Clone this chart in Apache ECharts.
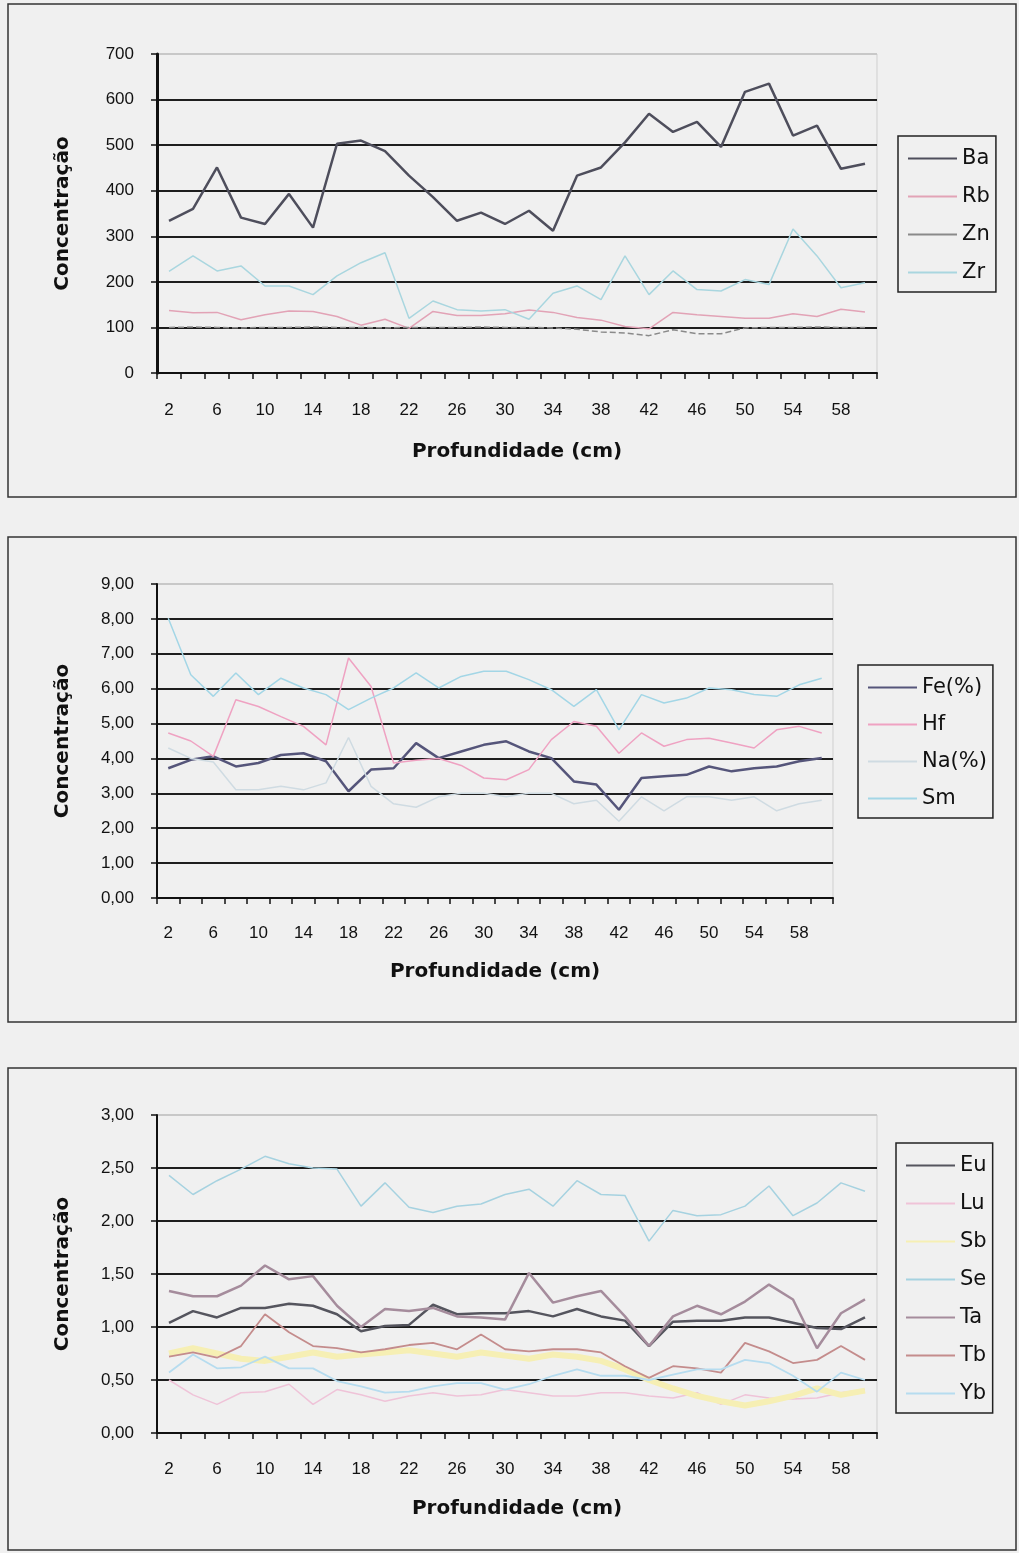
<!DOCTYPE html>
<html>
<head>
<meta charset="utf-8">
<title>Concentração x Profundidade</title>
<script src="https://cdn.jsdelivr.net/npm/echarts@6/dist/echarts.min.js"></script>
<style>
  html, body { margin: 0; padding: 0; background: #f0f0f0; }
  #chart { width: 1019px; height: 1553px; }
</style>
</head>
<body>
<div id="chart"></div>
<script>
// Profundidade (cm)
const depth = [2,4,6,8,10,12,14,16,18,20,22,24,26,28,30,32,34,36,38,40,42,44,46,48,50,52,54,56,58,60];

// Painel 1 (mg/kg)
const Ba = [334,360,451,341,327,393,319,503,510,487,433,386,334,352,327,356,312,433,451,506,569,529,551,496,617,635,521,543,448,459];
const Rb = [137,132,133,117,128,136,135,124,105,118,98,135,126,126,130,138,133,122,116,102,97,133,128,124,120,120,130,124,140,134];
const Zn = [100,101,100,99,100,100,101,100,100,99,100,100,100,101,100,100,99,96,90,88,82,95,86,86,99,100,100,101,100,100];
const Zr = [223,257,224,235,191,191,172,213,242,264,120,158,139,136,139,118,175,191,161,257,172,224,183,180,205,194,316,257,187,198];

// Painel 2
const Fe = [3.72,3.96,4.06,3.77,3.87,4.10,4.15,3.92,3.06,3.68,3.72,4.44,4.01,4.20,4.39,4.49,4.20,4.01,3.34,3.25,2.53,3.44,3.49,3.53,3.77,3.63,3.72,3.77,3.92,4.01];
const Hf = [4.73,4.50,4.06,5.68,5.49,5.20,4.92,4.39,6.88,6.06,3.87,3.95,4.00,3.80,3.44,3.39,3.68,4.54,5.06,4.92,4.15,4.73,4.35,4.54,4.58,4.44,4.30,4.82,4.92,4.73];
const Na = [4.30,4.00,3.90,3.10,3.10,3.20,3.10,3.30,4.60,3.20,2.70,2.60,2.90,3.00,3.00,2.90,3.00,3.00,2.70,2.80,2.20,2.90,2.50,2.90,2.90,2.80,2.90,2.50,2.70,2.80];
const Sm = [8.02,6.40,5.78,6.45,5.83,6.30,6.02,5.83,5.40,5.73,6.02,6.45,6.02,6.35,6.50,6.50,6.26,5.97,5.49,5.97,4.82,5.83,5.59,5.73,6.02,5.97,5.83,5.78,6.11,6.30];

// Painel 3
const Eu = [1.04,1.15,1.09,1.18,1.18,1.22,1.20,1.12,0.96,1.01,1.02,1.21,1.12,1.13,1.13,1.15,1.10,1.17,1.10,1.06,0.82,1.05,1.06,1.06,1.09,1.09,1.04,0.99,0.98,1.09];
const Lu = [0.50,0.36,0.27,0.38,0.39,0.46,0.27,0.41,0.36,0.30,0.35,0.38,0.35,0.36,0.41,0.38,0.35,0.35,0.38,0.38,0.35,0.33,0.38,0.27,0.36,0.33,0.32,0.33,0.38,0.41];
const Sb = [0.75,0.80,0.75,0.70,0.68,0.72,0.76,0.72,0.74,0.76,0.78,0.75,0.72,0.76,0.73,0.70,0.74,0.72,0.68,0.60,0.50,0.42,0.35,0.30,0.26,0.30,0.35,0.42,0.36,0.40];
const Se = [2.43,2.25,2.38,2.49,2.61,2.54,2.50,2.49,2.14,2.36,2.13,2.08,2.14,2.16,2.25,2.30,2.14,2.38,2.25,2.24,1.81,2.10,2.05,2.06,2.14,2.33,2.05,2.17,2.36,2.28];
const Ta = [1.34,1.29,1.29,1.39,1.58,1.45,1.48,1.20,1.00,1.17,1.15,1.18,1.10,1.09,1.07,1.51,1.23,1.29,1.34,1.10,0.82,1.10,1.20,1.12,1.24,1.40,1.26,0.80,1.13,1.26];
const Tb = [0.72,0.76,0.71,0.82,1.12,0.95,0.82,0.80,0.76,0.79,0.83,0.85,0.79,0.93,0.79,0.77,0.79,0.79,0.76,0.63,0.52,0.63,0.61,0.57,0.85,0.77,0.66,0.69,0.82,0.69];
const Yb = [0.57,0.74,0.61,0.62,0.72,0.61,0.61,0.49,0.44,0.38,0.39,0.44,0.47,0.47,0.41,0.46,0.54,0.60,0.54,0.54,0.50,0.55,0.60,0.60,0.69,0.66,0.54,0.39,0.57,0.50];

const yTicks1 = { min: 0, max: 700, interval: 100 };
const yTicks2 = { min: 0, max: 9, interval: 1 };
const yTicks3 = { min: 0, max: 3, interval: 0.5 };

const labelFont = 'Liberation Sans, Arial, sans-serif';
const nameFont = 'DejaVu Sans, Verdana, sans-serif';
const comma = v => v.toFixed(2).replace('.', ',');

function gridLines(n) {
  const c = [];
  for (let i = 0; i < n; i++) c.push(i === n - 1 ? '#c8c8c8' : '#1e1e1e');
  return c;
}

function xAxisFor(gridIndex, nameGap, labelMargin) {
  return {
    type: 'category', gridIndex, data: depth, boundaryGap: true,
    name: 'Profundidade (cm)', nameLocation: 'middle', nameGap,
    nameTextStyle: { fontFamily: nameFont, fontWeight: 'bold', fontSize: 20, color: '#111' },
    axisLine: { lineStyle: { color: '#111', width: 2 } },
    axisTick: { show: true, interval: 0, length: 6, lineStyle: { color: '#111', width: 1.5 } },
    axisLabel: { interval: 1, margin: labelMargin, fontFamily: labelFont, fontSize: 17, color: '#111' },
    splitLine: { show: false }
  };
}

function yAxisFor(gridIndex, t, fmt, lineW) {
  const n = Math.round((t.max - t.min) / t.interval) + 1;
  return {
    type: 'value', gridIndex, min: t.min, max: t.max, interval: t.interval,
    name: 'Concentração', nameLocation: 'middle', nameGap: 84, nameRotate: 90,
    nameTextStyle: { fontFamily: nameFont, fontWeight: 'bold', fontSize: 20, color: '#111' },
    axisLine: { show: true, lineStyle: { color: '#111', width: lineW } },
    axisTick: { show: true, length: 6, lineStyle: { color: '#111', width: 1.5 } },
    axisLabel: { margin: 23, fontFamily: labelFont, fontSize: 17, color: '#111', formatter: fmt },
    splitLine: { show: true, lineStyle: { color: gridLines(n), width: 2 } }
  };
}

function line(name, data, idx, color, width, extra) {
  return Object.assign({
    name, type: 'line', data, xAxisIndex: idx, yAxisIndex: idx,
    showSymbol: false, symbol: 'none', smooth: false, silent: true,
    lineStyle: { color, width }, itemStyle: { color }, z: 3
  }, extra || {});
}

function legendFor(names, left, top, gap) {
  return {
    data: names, orient: 'vertical', left, top,
    icon: 'rect', itemWidth: 49, itemHeight: 2, itemGap: gap,
    padding: [12, 6, 9, 10], borderColor: '#222', borderWidth: 1.5,
    textStyle: { fontFamily: nameFont, fontSize: 21, color: '#111', lineHeight: 20 },
    selectedMode: false
  };
}

const chart = echarts.init(document.getElementById('chart'), null, { renderer: 'canvas' });

chart.setOption({
  backgroundColor: '#f0f0f0',
  animation: false,
  graphic: [
    { type: 'rect', shape: { x: 8, y: 4, width: 1008, height: 493 }, style: { fill: 'none', stroke: '#333', lineWidth: 1.5 }, z: 0 },
    { type: 'rect', shape: { x: 8, y: 537, width: 1008, height: 485 }, style: { fill: 'none', stroke: '#333', lineWidth: 1.5 }, z: 0 },
    { type: 'rect', shape: { x: 8, y: 1068, width: 1008, height: 482 }, style: { fill: 'none', stroke: '#333', lineWidth: 1.5 }, z: 0 }
  ],
  grid: [
    { left: 157, top: 54, width: 720, height: 319, show: true, borderColor: '#cfcfcf', borderWidth: 1, backgroundColor: 'transparent' },
    { left: 157, top: 584, width: 676, height: 314, show: true, borderColor: '#cfcfcf', borderWidth: 1, backgroundColor: 'transparent' },
    { left: 157, top: 1115, width: 720, height: 318, show: true, borderColor: '#cfcfcf', borderWidth: 1, backgroundColor: 'transparent' }
  ],
  xAxis: [xAxisFor(0, 69, 29), xAxisFor(1, 64, 27), xAxisFor(2, 66, 28)],
  yAxis: [
    yAxisFor(0, yTicks1, v => String(v), 3),
    yAxisFor(1, yTicks2, comma, 2),
    yAxisFor(2, yTicks3, comma, 2)
  ],
  legend: [
    legendFor(['Ba', 'Rb', 'Zn', 'Zr'], 898, 136, 17),
    legendFor(['Fe(%)', 'Hf', 'Na(%)', 'Sm'], 858, 665, 16),
    legendFor(['Eu', 'Lu', 'Sb', 'Se', 'Ta', 'Tb', 'Yb'], 896, 1143, 17)
  ],
  series: [
    line('Ba', Ba, 0, '#4e4e5c', 2.5),
    line('Rb', Rb, 0, '#e2a3b6', 1.5),
    line('Zn', Zn, 0, '#8a8a8a', 1.5, { lineStyle: { color: '#8a8a8a', width: 1.5, type: 'dashed' } }),
    line('Zr', Zr, 0, '#a9d6df', 1.5),

    line('Fe(%)', Fe, 1, '#55557a', 2.5),
    line('Hf', Hf, 1, '#efa2c2', 1.5),
    line('Na(%)', Na, 1, '#cfdbe2', 1.5),
    line('Sm', Sm, 1, '#a3d6e6', 1.5),

    line('Eu', Eu, 2, '#55555e', 2.5),
    line('Lu', Lu, 2, '#efc3d8', 1.5),
    line('Sb', Sb, 2, '#f6efb4', 6),
    line('Se', Se, 2, '#a6d2e0', 1.5),
    line('Ta', Ta, 2, '#a58c9c', 2.5),
    line('Tb', Tb, 2, '#c48c8c', 1.8),
    line('Yb', Yb, 2, '#b6dcef', 1.8)
  ]
});
</script>
</body>
</html>
